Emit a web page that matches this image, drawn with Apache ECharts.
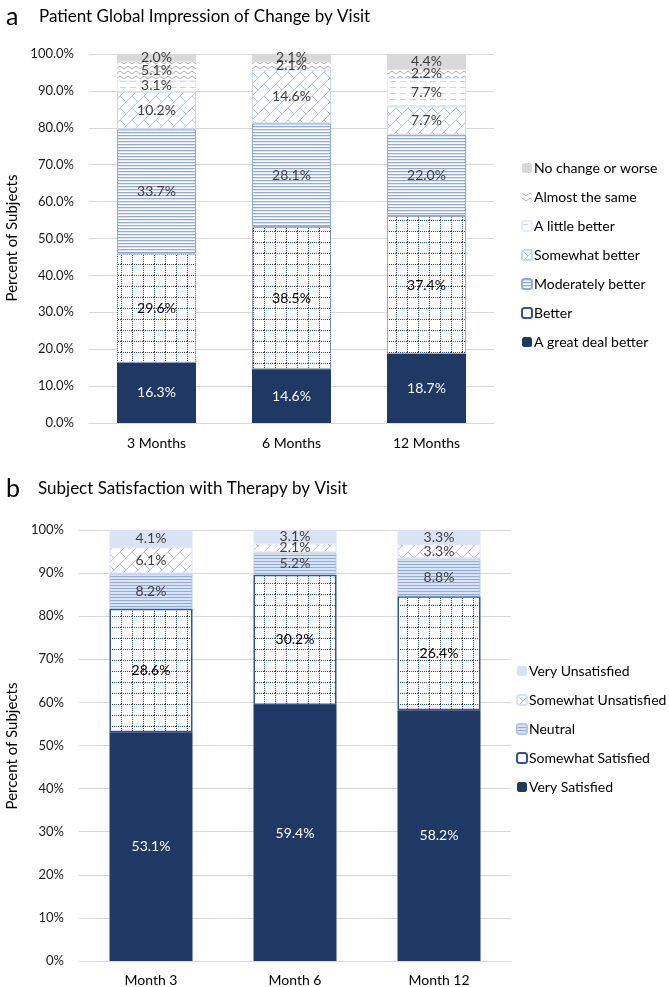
<!DOCTYPE html>
<html>
<head>
<meta charset="utf-8">
<script src="https://cdn.jsdelivr.net/npm/echarts@6/dist/echarts.min.js"></script>
<style>
html,body{margin:0;padding:0;background:#fff;}
#c{width:669px;height:987px;}
</style>
</head>
<body>
<div id="c"></div>
<script>
// ---------- DATA ----------
const visitsA = ['3 Months', '6 Months', '12 Months'];
const greatDealBetter = [16.3, 14.6, 18.7];
const better = [29.6, 38.5, 37.4];
const moderatelyBetter = [33.7, 28.1, 22.0];
const somewhatBetter = [10.2, 14.6, 7.7];
const aLittleBetter = [3.1, 0, 7.7];
const almostTheSame = [5.1, 2.1, 2.2];
const noChangeOrWorse = [2.0, 2.1, 4.4];

const visitsB = ['Month 3', 'Month 6', 'Month 12'];
const verySatisfied = [53.1, 59.4, 58.2];
const somewhatSatisfied = [28.6, 30.2, 26.4];
const neutral = [8.2, 5.2, 8.8];
const somewhatUnsatisfied = [6.1, 2.1, 3.3];
const veryUnsatisfied = [4.1, 3.1, 3.3];

const yTicksA = [0, 10, 20, 30, 40, 50, 60, 70, 80, 90, 100];
const yTicksB = [0, 10, 20, 30, 40, 50, 60, 70, 80, 90, 100];

// ---------- PATTERNS ----------
function tile(w, h, draw) {
  const c = document.createElement('canvas');
  c.width = w; c.height = h;
  const g = c.getContext('2d');
  g.fillStyle = '#fff'; g.fillRect(0, 0, w, h);
  draw(g);
  return {image: c, repeat: 'repeat'};
}
const zigzag = tile(8, 5, g => {
  g.strokeStyle = '#b0b0b0'; g.lineWidth = 1;
  g.beginPath(); g.moveTo(0, 1); g.lineTo(4, 4); g.lineTo(8, 1); g.stroke();
});
const dashH = tile(10, 6, g => {
  g.fillStyle = '#c9d6ee'; g.fillRect(0, 3, 6, 1);
});
const brick = tile(12, 12, g => {
  g.strokeStyle = '#b4c7e7'; g.lineWidth = 1;
  g.beginPath(); g.moveTo(-1, 13); g.lineTo(13, -1); g.stroke();
  g.beginPath(); g.moveTo(0, 0); g.lineTo(6, 6); g.stroke();
});
const hLines = tile(4, 3, g => {
  g.fillStyle = '#8faadc'; g.fillRect(0, 0, 4, 1);
  g.fillStyle = '#dfe7f6'; g.fillRect(0, 1, 4, 1);
});
const hLinesB = tile(4, 3, g => {
  g.fillStyle = '#dae3f3'; g.fillRect(0, 0, 4, 3);
  g.fillStyle = '#8faadc'; g.fillRect(0, 0, 4, 1);
});
const dotGrid = tile(11, 11, g => {
  g.fillStyle = '#2f5597';
  for (let i = 0; i < 11; i += 2) { g.fillRect(i, 0, 1, 1); g.fillRect(0, i, 1, 1); }
});

const NAVY = '#203864';
const fmt = p => (p.value ? p.value.toFixed(1) + '%' : '');
const FONT = 'Lato, "Open Sans", sans-serif';

function ser(name, data, color, xi, labelColor, border) {
  return {
    name, type: 'bar', stack: 's' + xi, xAxisIndex: xi, yAxisIndex: xi,
    data, barWidth: xi === 0 ? 79 : 83,
    itemStyle: Object.assign({color: color}, border || {}),
    label: {show: true, position: 'inside', formatter: fmt, color: labelColor,
      fontSize: 14, fontFamily: FONT},
    emphasis: {disabled: true}
  };
}

const series = [
  ser('A great deal better', greatDealBetter, NAVY, 0, '#fff'),
  ser('Better', better, dotGrid, 0, '#000', {borderColor: '#2f5597', borderWidth: 1, borderType: 'dotted'}),
  ser('Moderately better', moderatelyBetter, hLines, 0, '#404040', {borderColor: '#8faadc', borderWidth: 1}),
  ser('Somewhat better', somewhatBetter, brick, 0, '#404040', {borderColor: '#c9d6ee', borderWidth: 1}),
  ser('A little better', aLittleBetter, dashH, 0, '#404040', {borderColor: '#e4ebf7', borderWidth: 1}),
  ser('Almost the same', almostTheSame, zigzag, 0, '#404040'),
  ser('No change or worse', noChangeOrWorse, '#d9d9d9', 0, '#404040'),
  ser('Very Satisfied', verySatisfied, NAVY, 1, '#fff'),
  ser('Somewhat Satisfied', somewhatSatisfied, dotGrid, 1, '#000', {borderColor: '#2f5597', borderWidth: 1.5}),
  ser('Neutral', neutral, hLinesB, 1, '#404040', {borderColor: '#b4c7e7', borderWidth: 1}),
  ser('Somewhat Unsatisfied', somewhatUnsatisfied, brick, 1, '#404040', {borderColor: '#dae3f3', borderWidth: 1}),
  ser('Very Unsatisfied', veryUnsatisfied, '#dae3f3', 1, '#404040')
];

function yAx(gi, ticks, dec) {
  return {
    type: 'value', gridIndex: gi, min: ticks[0], max: ticks[ticks.length - 1],
    interval: ticks[1] - ticks[0],
    axisLine: {show: false}, axisTick: {show: false},
    splitLine: {lineStyle: {color: '#d9d9d9', width: 1}},
    axisLabel: {formatter: v => v.toFixed(dec) + '%', fontSize: 13, color: '#1a1a1a',
      fontFamily: FONT, margin: 15}
  };
}
function xAx(gi, cats, margin) {
  return {
    type: 'category', gridIndex: gi, data: cats,
    axisLine: {lineStyle: {color: '#d9d9d9'}}, axisTick: {show: false},
    axisLabel: {fontSize: 14, color: '#000', fontFamily: FONT, margin: margin}
  };
}

const legendText = {fontSize: 14, color: '#000', fontFamily: FONT, lineHeight: 16, padding: [0, 0, 0, -3]};

const option = {
  animation: false,
  backgroundColor: '#fff',
  grid: [
    {left: 89, width: 405, top: 54, height: 369},
    {left: 79, width: 432, top: 530, height: 433}
  ],
  xAxis: [xAx(0, visitsA, 13), xAx(1, visitsB, 12)],
  yAxis: [yAx(0, yTicksA, 1), yAx(1, yTicksB, 0)],
  legend: [
    {orient: 'vertical', left: 516, top: 155, itemWidth: 10, itemHeight: 10, itemGap: 13,
      textStyle: legendText, selectedMode: false,
      data: ['No change or worse', 'Almost the same', 'A little better', 'Somewhat better',
        'Moderately better', 'Better', 'A great deal better']},
    {orient: 'vertical', left: 511, top: 658, itemWidth: 10, itemHeight: 10, itemGap: 13,
      textStyle: legendText, selectedMode: false,
      data: ['Very Unsatisfied', 'Somewhat Unsatisfied', 'Neutral', 'Somewhat Satisfied', 'Very Satisfied']}
  ],
  graphic: [
    {type: 'text', x: 6, y: 17, style: {text: 'a', fontSize: 25, fontFamily: FONT, fill: '#000', verticalAlign: 'middle', align: 'left'}},
    {type: 'text', x: 39, y: 17, style: {text: 'Patient Global Impression of Change by Visit', fontSize: 17, fontFamily: FONT, fill: '#000', verticalAlign: 'middle', align: 'left'}},
    {type: 'text', x: 6, y: 489, style: {text: 'b', fontSize: 25, fontFamily: FONT, fill: '#000', verticalAlign: 'middle', align: 'left'}},
    {type: 'text', x: 38, y: 489, style: {text: 'Subject Satisfaction with Therapy by Visit', fontSize: 17, fontFamily: FONT, fill: '#000', verticalAlign: 'middle', align: 'left'}},
    {type: 'text', x: 12, y: 238, rotation: Math.PI / 2, style: {text: 'Percent of Subjects', fontSize: 15, fontFamily: FONT, fill: '#000', verticalAlign: 'middle', align: 'center'}},
    {type: 'text', x: 12, y: 746, rotation: Math.PI / 2, style: {text: 'Percent of Subjects', fontSize: 15, fontFamily: FONT, fill: '#000', verticalAlign: 'middle', align: 'center'}}
  ],
  series
};
const chart = echarts.init(document.getElementById('c'), null, {renderer: 'canvas'});
chart.setOption(option);
</script>
</body>
</html>
